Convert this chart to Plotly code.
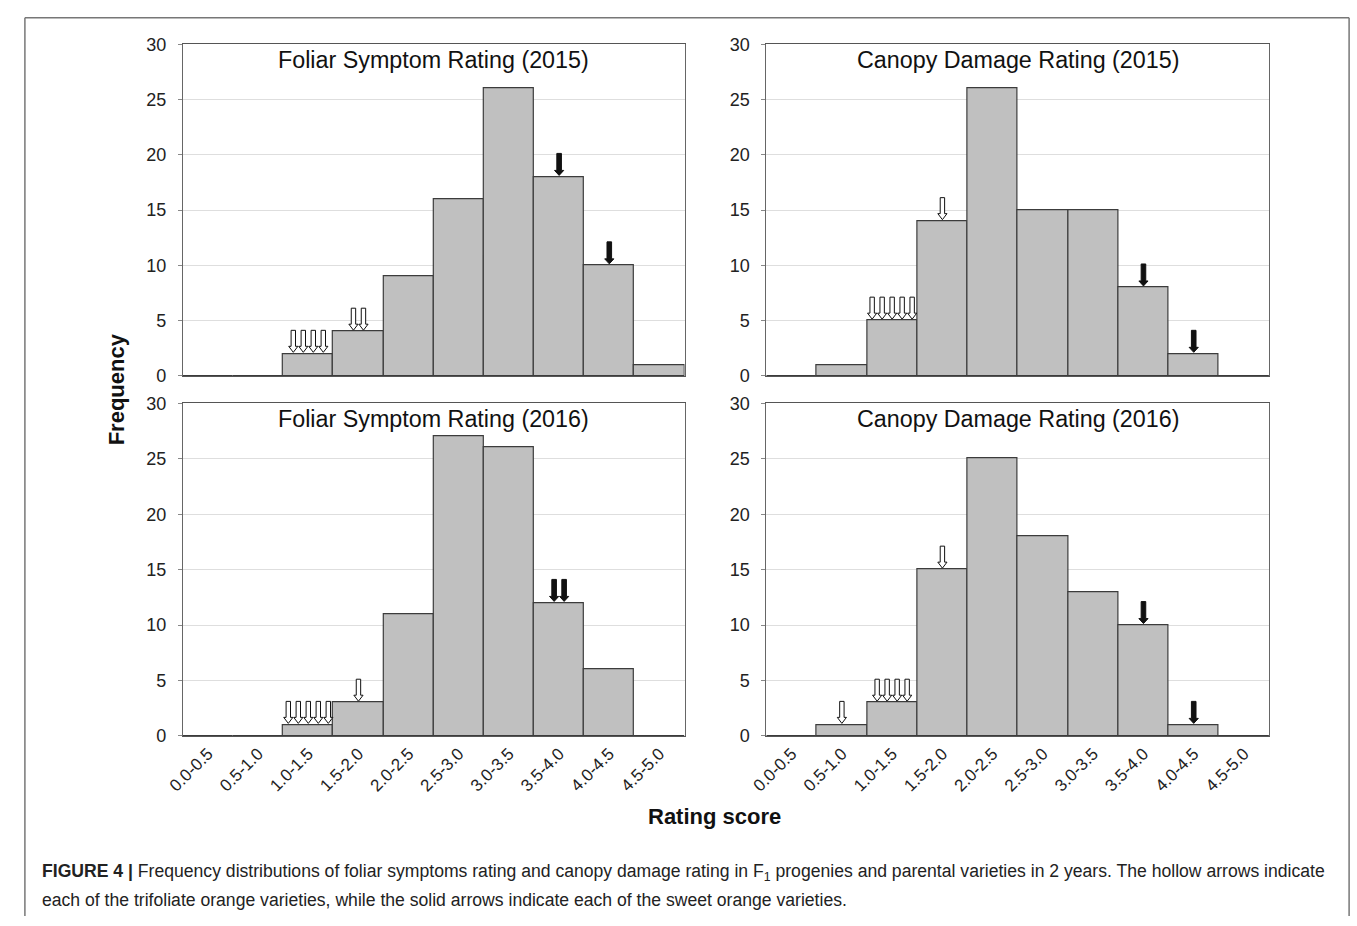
import plotly.graph_objects as go

# Rating-score bins (shared by all four histograms)
bins = ["0.0-0.5", "0.5-1.0", "1.0-1.5", "1.5-2.0", "2.0-2.5",
        "2.5-3.0", "3.0-3.5", "3.5-4.0", "4.0-4.5", "4.5-5.0"]

# Frequencies of F1 progenies per bin
foliar_2015 = [0, 0, 2, 4, 9, 16, 26, 18, 10, 1]
canopy_2015 = [0, 1, 5, 14, 26, 15, 15, 8, 2, 0]
foliar_2016 = [0, 0, 1, 3, 11, 27, 26, 12, 6, 0]
canopy_2016 = [0, 1, 3, 15, 25, 18, 13, 10, 1, 0]

# Number of parental varieties falling in each bin
# (trifoliate orange -> hollow arrows, sweet orange -> solid arrows)
foliar_2015_trifoliate = [0, 0, 4, 2, 0, 0, 0, 0, 0, 0]
foliar_2015_sweet = [0, 0, 0, 0, 0, 0, 0, 1, 1, 0]
canopy_2015_trifoliate = [0, 0, 5, 1, 0, 0, 0, 0, 0, 0]
canopy_2015_sweet = [0, 0, 0, 0, 0, 0, 0, 1, 1, 0]
foliar_2016_trifoliate = [0, 0, 5, 1, 0, 0, 0, 0, 0, 0]
foliar_2016_sweet = [0, 0, 0, 0, 0, 0, 0, 2, 0, 0]
canopy_2016_trifoliate = [0, 1, 4, 1, 0, 0, 0, 0, 0, 0]
canopy_2016_sweet = [0, 0, 0, 0, 0, 0, 0, 1, 1, 0]

panel_titles = ["Foliar Symptom Rating (2015)", "Canopy Damage Rating (2015)",
                "Foliar Symptom Rating (2016)", "Canopy Damage Rating (2016)"]
y_ticks = [0, 5, 10, 15, 20, 25, 30]

W, H = 1357, 926
FONT = "Liberation Sans, Arial, Helvetica, sans-serif"


def xdom(left, right):
    return [left / W, right / W]


def ydom(top, bottom):
    return [1 - bottom / H, 1 - top / H]


# panel boxes in pixels: (left, right, top, bottom)
boxes = [(168, 676, 35, 374), (759, 1268, 35, 374),
         (168, 676, 402, 742), (759, 1268, 402, 742)]

panels = [
    (foliar_2015, foliar_2015_trifoliate, foliar_2015_sweet),
    (canopy_2015, canopy_2015_trifoliate, canopy_2015_sweet),
    (foliar_2016, foliar_2016_trifoliate, foliar_2016_sweet),
    (canopy_2016, canopy_2016_trifoliate, canopy_2016_sweet),
]

fig = go.Figure()
shapes = []
annotations = []
idx = list(range(len(bins)))


def arrow_path(dx, solid):
    # downward block arrow, pixel units relative to the bar top (y up)
    sw = 2.3 if solid else 2.2
    hw = 4.6
    tip, neck, top = 1.5, 7.5 if not solid else 6.5, 23.5
    pts = [(dx - sw, top), (dx + sw, top), (dx + sw, neck), (dx + hw, neck),
           (dx, tip), (dx - hw, neck), (dx - sw, neck)]
    return "M " + " L ".join(f"{x:.2f},{y:.2f}" for x, y in pts) + " Z"


for i, ((counts, hollow, solid), box, title) in enumerate(zip(panels, boxes, panel_titles)):
    n = "" if i == 0 else str(i + 1)
    xa, ya = "x" + n, "y" + n
    fig.add_trace(go.Bar(
        x=idx, y=counts, width=1, xaxis=xa, yaxis=ya,
        marker=dict(color="#c0c0c0", line=dict(color="#3c3c3c", width=1.2)),
        showlegend=False, hoverinfo="skip",
    ))
    bottom_row = i >= 2
    fig.layout["xaxis" + n] = dict(
        domain=xdom(box[0], box[1]), anchor=ya, range=[-0.5, 9.5],
        tickmode="array", tickvals=idx, ticktext=bins,
        showticklabels=bottom_row, tickangle=-45,
        tickfont=dict(family=FONT, size=17, color="#222"),
        showgrid=False, zeroline=False, ticks="",
        showline=True, linecolor="#555", linewidth=1.2, mirror=True,
        fixedrange=True,
    )
    fig.layout["yaxis" + n] = dict(
        domain=ydom(box[2], box[3]), anchor=xa, range=[0, 30],
        tickmode="array", tickvals=y_ticks,
        tickfont=dict(family=FONT, size=18, color="#222"),
        showgrid=True, gridcolor="#dedede", gridwidth=1, zeroline=False,
        ticks="outside", ticklen=4, tickcolor="#888", ticklabelstandoff=8,
        showline=True, linecolor="#666", linewidth=1.2, mirror=True,
        fixedrange=True,
    )
    annotations.append(dict(
        text=title, xref="x" + n + " domain", yref="paper",
        x=0.5, y=1 - (box[2] + 16) / H, xanchor="center", yanchor="middle",
        showarrow=False, font=dict(family=FONT, size=23.3, color="#111"),
    ))
    # parental-variety arrows above their bins
    for kinds, is_solid in ((hollow, False), (solid, True)):
        for b, k in enumerate(kinds):
            for j in range(k):
                dx = (j - (k - 1) / 2) * 10
                shapes.append(dict(
                    type="path", xref=xa, yref=ya,
                    xsizemode="pixel", ysizemode="pixel",
                    xanchor=b, yanchor=counts[b],
                    path=arrow_path(dx, is_solid),
                    fillcolor="#111" if is_solid else "white",
                    line=dict(color="#111", width=1),
                ))

# axis titles shared by the grid
annotations.append(dict(
    text="<b>Frequency</b>", xref="paper", yref="paper",
    x=101 / W, y=1 - 388 / H, textangle=-90, showarrow=False,
    xanchor="center", yanchor="middle",
    font=dict(family=FONT, size=22, color="#111"),
))
annotations.append(dict(
    text="<b>Rating score</b>", xref="paper", yref="paper",
    x=706 / W, y=1 - 824 / H, showarrow=False,
    xanchor="center", yanchor="middle",
    font=dict(family=FONT, size=22, color="#111"),
))

# figure caption
caption_1 = ("<b>FIGURE 4 |</b> Frequency distributions of foliar symptoms rating and canopy "
             "damage rating in F<sub>1</sub> progenies and parental varieties in 2 years. "
             "The hollow arrows indicate")
caption_2 = ("each of the trifoliate orange varieties, while the solid arrows indicate each "
             "of the sweet orange varieties.")
for txt, ypix in ((caption_1, 882), (caption_2, 910)):
    annotations.append(dict(
        text=txt, xref="paper", yref="paper", x=23 / W, y=1 - ypix / H,
        xanchor="left", yanchor="middle", showarrow=False, align="left",
        font=dict(family=FONT, size=17.6, color="#222"),
    ))

# outer frame of the figure (open at the bottom)
frame = dict(color="#777", width=1.5)
shapes += [
    dict(type="line", xref="paper", yref="paper", x0=8 / W, x1=1349 / W,
         y0=1 - 8 / H, y1=1 - 8 / H, line=frame),
    dict(type="line", xref="paper", yref="paper", x0=8 / W, x1=8 / W,
         y0=1 - 8 / H, y1=0, line=frame),
    dict(type="line", xref="paper", yref="paper", x0=1349 / W, x1=1349 / W,
         y0=1 - 8 / H, y1=0, line=frame),
]

fig.update_layout(
    width=W, height=H, margin=dict(l=0, r=0, t=0, b=0),
    paper_bgcolor="white", plot_bgcolor="white",
    shapes=shapes, annotations=annotations, bargap=0,
    font=dict(family=FONT),
)

fig.write_html(
    "out.html",
    config={"displayModeBar": False},
    post_script="document.body.style.margin='0';document.body.style.overflow='hidden';",
)
